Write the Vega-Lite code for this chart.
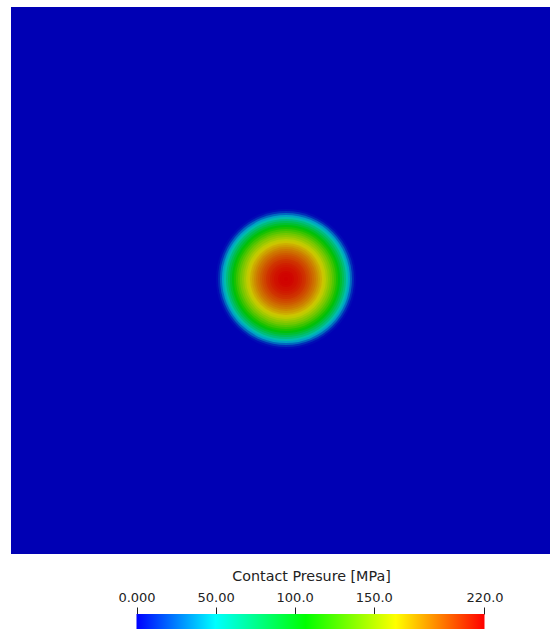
{
  "$schema": "https://vega.github.io/schema/vega-lite/v6.json",
  "padding": {"left": 11, "top": 7, "right": 0, "bottom": 0},
  "background": "white",
  "spacing": 15,
  "config": {"view": {"stroke": null}},
  "vconcat": [
    {
      "width": 539,
      "height": 547,
      "view": {"fill": "#0000b4", "stroke": null},
      "data": {"values": [
        {"x": 275, "y": 275, "r": 70, "p": 3},
        {"x": 275, "y": 275, "r": 68, "p": 12},
        {"x": 275, "y": 275, "r": 66, "p": 28},
        {"x": 275, "y": 275, "r": 64, "p": 43},
        {"x": 275, "y": 275, "r": 62, "p": 58},
        {"x": 275, "y": 275, "r": 60, "p": 71},
        {"x": 275, "y": 275, "r": 58, "p": 83},
        {"x": 275, "y": 275, "r": 56, "p": 94},
        {"x": 275, "y": 275, "r": 54, "p": 104},
        {"x": 275, "y": 275, "r": 52, "p": 114},
        {"x": 275, "y": 275, "r": 50, "p": 123},
        {"x": 275, "y": 275, "r": 48, "p": 131},
        {"x": 275, "y": 275, "r": 46, "p": 139},
        {"x": 275, "y": 275, "r": 44, "p": 146},
        {"x": 275, "y": 275, "r": 42, "p": 153},
        {"x": 275, "y": 275, "r": 40, "p": 160},
        {"x": 275, "y": 275, "r": 38, "p": 166},
        {"x": 275, "y": 275, "r": 36, "p": 172},
        {"x": 275, "y": 275, "r": 34, "p": 177},
        {"x": 275, "y": 275, "r": 32, "p": 182},
        {"x": 275, "y": 275, "r": 30, "p": 187},
        {"x": 275, "y": 275, "r": 28, "p": 191},
        {"x": 275, "y": 275, "r": 26, "p": 195},
        {"x": 275, "y": 275, "r": 24, "p": 199},
        {"x": 275, "y": 275, "r": 22, "p": 202},
        {"x": 275, "y": 275, "r": 20, "p": 206},
        {"x": 275, "y": 275, "r": 18, "p": 208},
        {"x": 275, "y": 275, "r": 16, "p": 211},
        {"x": 275, "y": 275, "r": 14, "p": 213},
        {"x": 275, "y": 275, "r": 12, "p": 215},
        {"x": 275, "y": 275, "r": 10, "p": 216},
        {"x": 275, "y": 275, "r": 8, "p": 218},
        {"x": 275, "y": 275, "r": 6, "p": 219},
        {"x": 275, "y": 275, "r": 4, "p": 219},
        {"x": 275, "y": 275, "r": 2, "p": 220}
      ]},
      "mark": {"type": "circle", "opacity": 1, "strokeWidth": 0},
      "encoding": {
        "x": {"field": "x", "type": "quantitative", "scale": {"domain": [0, 539], "nice": false, "zero": false}, "axis": null},
        "y": {"field": "y", "type": "quantitative", "scale": {"domain": [0, 547], "nice": false, "zero": false}, "axis": null},
        "size": {"field": "r", "type": "quantitative", "scale": {"type": "pow", "exponent": 2, "domain": [0, 70], "range": [0, 19600], "zero": true}, "legend": null},
        "color": {"field": "p", "type": "quantitative", "scale": {"domain": [0, 50, 107, 164, 220], "range": ["#0000b4", "#00bcc8", "#00c000", "#cccc00", "#d00000"], "interpolate": "rgb"}, "legend": null}
      }
    },
    {
      "width": 539,
      "height": 15,
      "data": {"values": [{"lo": 0, "hi": 220}]},
      "mark": {
        "type": "rect",
        "fill": {
          "gradient": "linear", "x1": 0, "y1": 0, "x2": 1, "y2": 0,
          "stops": [
            {"offset": 0, "color": "#0000ff"},
            {"offset": 0.227, "color": "#00ffff"},
            {"offset": 0.486, "color": "#00ff00"},
            {"offset": 0.745, "color": "#ffff00"},
            {"offset": 1, "color": "#ff0000"}
          ]
        }
      },
      "encoding": {
        "x": {
          "field": "lo", "type": "quantitative",
          "scale": {"domain": [-79.34, 261.41], "nice": false, "zero": false},
          "axis": {
            "orient": "top",
            "title": "Contact Presure [MPa]",
            "values": [0, 50, 100, 150, 220],
            "labelExpr": "datum.value == 0 ? '0.000' : format(datum.value, '.4r')",
            "domain": false,
            "grid": false,
            "tickSize": 7,
            "tickColor": "#222222",
            "tickWidth": 1,
            "labelFont": "DejaVu Sans",
            "labelFontSize": 13,
            "labelColor": "#222222",
            "labelBaseline": "alphabetic",
            "labelPadding": 6,
            "labelFlush": false,
            "labelOverlap": false,
            "titleFont": "DejaVu Sans",
            "titleFontSize": 14.3,
            "titleFontWeight": "normal",
            "titleColor": "#222222",
            "titleBaseline": "alphabetic",
            "titleAlign": "center",
            "titleX": 300,
            "titleY": -33.3
          }
        },
        "x2": {"field": "hi"}
      }
    }
  ]
}
